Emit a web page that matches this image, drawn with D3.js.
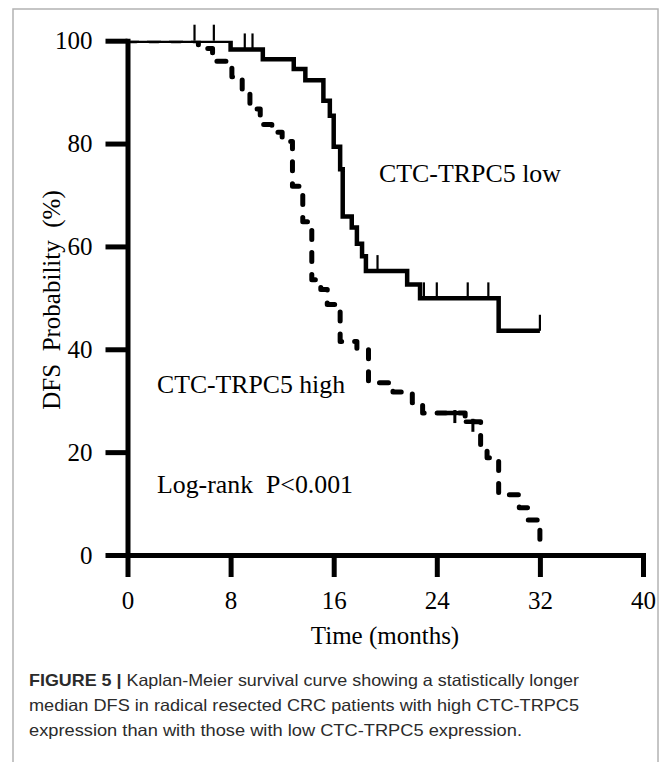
<!DOCTYPE html>
<html><head><meta charset="utf-8">
<script src="https://cdn.jsdelivr.net/npm/d3@7"></script>
<style>body{margin:0;background:#fff} svg{display:block}</style>
</head><body><svg id="c" width="663" height="762"></svg>
<script>
// ---- data ----
const xTicks = [0, 8, 16, 24, 32, 40];
const yTicks = [0, 20, 40, 60, 80, 100];

// CTC-TRPC5 low (solid)
const lowTimes = [0, 8.0, 10.5, 12.9, 13.8, 15.2, 15.7, 16.0, 16.5, 16.7, 17.4, 17.8, 18.2, 18.5, 21.7, 22.7, 28.8];
const lowSurv  = [100, 98.3, 96.4, 94.5, 92.3, 88.3, 85.4, 79.4, 75.0, 65.8, 63.7, 60.5, 58.1, 55.2, 52.6, 49.9, 43.6];
const lowEndTime = 32;
const lowCensorTimes = [5.2, 6.7, 9.1, 9.7, 19.4, 23.0, 24.0, 26.4, 28.0, 32.0];

// CTC-TRPC5 high (dashed)
const highTimes = [0, 5.5, 6.6, 8.1, 8.9, 9.5, 10.3, 11.2, 12.0, 12.8, 13.6, 14.3, 15.0, 15.5, 16.5, 17.8, 18.7, 20.6, 22.1, 22.9, 26.2, 27.4, 27.9, 28.8, 30.4, 31.1, 32.0];
const highSurv  = [100, 98.5, 96.0, 93.0, 90.0, 86.7, 83.7, 82.2, 80.4, 71.7, 64.8, 53.5, 51.6, 48.7, 41.5, 40.1, 33.5, 31.7, 29.6, 27.6, 25.9, 21.0, 18.9, 11.7, 9.2, 6.8, 2.9];
const highCensorTimes = [25.4, 26.8];

const xTitle = "Time (months)";
const yTitle = "DFS  Probability  (%)";
const lowLabel = "CTC-TRPC5 low";
const highLabel = "CTC-TRPC5 high";
const statLabel = "Log-rank  P<0.001";
const captionBold = "FIGURE 5 | ";
const captionLines = [
  "Kaplan-Meier survival curve showing a statistically longer",
  "median DFS in radical resected CRC patients with high CTC-TRPC5",
  "expression than with those with low CTC-TRPC5 expression."
];

// ---- drawing ----
const svg = d3.select('#c');
const serif = "'Liberation Serif','Times New Roman',serif";

// frame
svg.append('rect').attr('x', 13).attr('y', 9).attr('width', 645).attr('height', 800)
  .attr('fill', 'none').attr('stroke', '#b3b3b3').attr('stroke-width', 1.5);

const x = d3.scaleLinear().domain([0, 40]).range([127.5, 643]);
const y = d3.scaleLinear().domain([0, 100]).range([555, 40.7]);

function survAt(times, surv, t) {
  let v = surv[0];
  for (let i = 0; i < times.length; i++) if (times[i] <= t + 1e-9) v = surv[i];
  return v;
}

svg.append('clipPath').attr('id', 'plotclip').append('rect')
  .attr('x', 0).attr('y', y(100)).attr('width', 663).attr('height', 600);

const line = d3.line().x(d => x(d[0])).y(d => y(d[1])).curve(d3.curveStepAfter);

const lowPts = lowTimes.map((t, i) => [t, lowSurv[i]]);
lowPts.push([lowEndTime, lowSurv[lowSurv.length - 1]]);
const highPts = highTimes.map((t, i) => [t, highSurv[i]]);

const curves = svg.append('g').attr('clip-path', 'url(#plotclip)');
curves.append('path').attr('d', line(lowPts)).attr('fill', 'none')
  .attr('stroke', '#000').attr('stroke-width', 4.5).attr('stroke-linejoin', 'miter');
curves.append('path').attr('d', line(highPts)).attr('fill', 'none')
  .attr('stroke', '#000').attr('stroke-width', 5).attr('stroke-linecap', 'round')
  .attr('stroke-linejoin', 'round').attr('stroke-dasharray', '9,13');

// censor marks
svg.append('g').selectAll('line').data(lowCensorTimes).join('line')
  .attr('x1', d => x(d)).attr('x2', d => x(d))
  .attr('y1', d => y(survAt(lowTimes, lowSurv, d))).attr('y2', d => y(survAt(lowTimes, lowSurv, d)) - 16)
  .attr('stroke', '#000').attr('stroke-width', 2.2);
svg.append('g').selectAll('line').data(highCensorTimes).join('line')
  .attr('x1', d => x(d)).attr('x2', d => x(d))
  .attr('y1', d => y(survAt(highTimes, highSurv, d)) - 3).attr('y2', d => y(survAt(highTimes, highSurv, d)) + 10)
  .attr('stroke', '#000').attr('stroke-width', 3);
svg.append('g').selectAll('line').data(highCensorTimes).join('line')
  .attr('x1', d => x(d) - 7).attr('x2', d => x(d) + 2)
  .attr('y1', d => y(survAt(highTimes, highSurv, d))).attr('y2', d => y(survAt(highTimes, highSurv, d)))
  .attr('stroke', '#000').attr('stroke-width', 4.5).attr('stroke-linecap', 'round');

// axes
function styleAxis(g) {
  g.attr('font-family', serif).attr('font-size', 25);
  g.select('.domain').attr('stroke-width', 5).attr('stroke-linecap', 'square');
  g.selectAll('.tick line').attr('stroke-width', 5);
  g.selectAll('.tick text').attr('fill', '#000');
}
svg.append('g').attr('transform', 'translate(0,555)')
  .call(d3.axisBottom(x).tickValues(xTicks).tickSize(22).tickSizeOuter(0).tickPadding(14))
  .call(styleAxis);
svg.append('g').attr('transform', 'translate(127.5,0)')
  .call(d3.axisLeft(y).tickValues(yTicks).tickSize(22).tickSizeOuter(0).tickPadding(13))
  .call(styleAxis);

// titles
svg.append('text').attr('x', 385).attr('y', 644).attr('text-anchor', 'middle')
  .attr('font-family', serif).attr('font-size', 25).text(xTitle);
svg.append('text').attr('transform', 'translate(60,300) rotate(-90)').attr('text-anchor', 'middle')
  .attr('font-family', serif).attr('font-size', 25).style('white-space', 'pre').text(yTitle);

// annotations
svg.append('text').attr('x', 379).attr('y', 182).attr('font-family', serif).attr('font-size', 25)
  .attr('textLength', 182).attr('lengthAdjust', 'spacingAndGlyphs').text(lowLabel);
svg.append('text').attr('x', 157).attr('y', 393).attr('font-family', serif).attr('font-size', 25)
  .attr('textLength', 188).attr('lengthAdjust', 'spacingAndGlyphs').text(highLabel);
svg.append('text').attr('x', 157).attr('y', 493).attr('font-family', serif).attr('font-size', 25)
  .style('white-space', 'pre').attr('textLength', 196).attr('lengthAdjust', 'spacingAndGlyphs').text(statLabel);

// caption
const capFont = "'Liberation Sans',Arial,sans-serif";
const capW = [550, 550, 493];
const capY = [686, 711, 736];
captionLines.forEach((s, i) => {
  const t = svg.append('text').attr('x', 29).attr('y', capY[i]).attr('font-family', capFont)
    .attr('font-size', 16.5).attr('fill', '#2b2b2b')
    .attr('textLength', capW[i]).attr('lengthAdjust', 'spacingAndGlyphs');
  if (i === 0) t.append('tspan').attr('font-weight', 'bold').text(captionBold);
  t.append('tspan').text(s);
});
</script>
</body></html>
